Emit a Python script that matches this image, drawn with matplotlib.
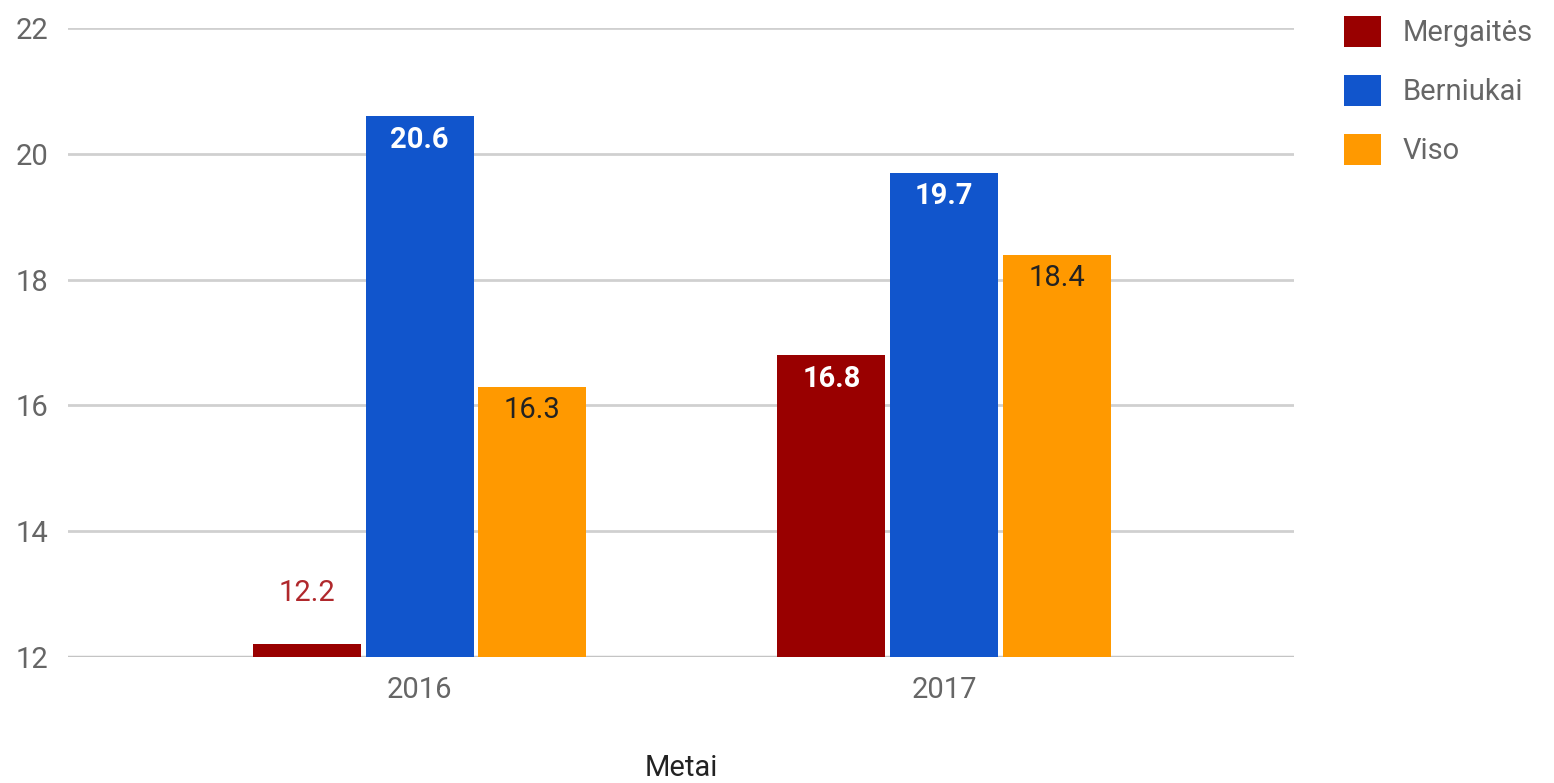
import numpy as np
import matplotlib.pyplot as plt
from matplotlib.patches import Patch

# duomenys
metai = ['2016', '2017']
serijos = ['Mergaitės', 'Berniukai', 'Viso']
mergaites = [12.2, 16.8]
berniukai = [20.6, 19.7]
viso = [16.3, 18.4]
spalvos = ['#990000', '#1155cc', '#ff9900']

plt.rcParams['font.family'] = ['Roboto', 'DejaVu Sans']

fig = plt.figure(figsize=(15.54, 7.83), dpi=100)
ax = fig.add_axes([0.0438, 0.161, 0.789, 0.803])

x = np.arange(len(metai))
plotis = 0.206
zingsnis = 0.215
reiksmes = [mergaites, berniukai, viso]

for i, (vals, sp) in enumerate(zip(reiksmes, spalvos)):
    pos = x + (i - 1) * zingsnis
    ax.bar(pos, np.array(vals) - 12, bottom=12, width=plotis, color=sp, zorder=3)
    for px, v in zip(pos, vals):
        if v - 12 < 1:
            # per mazas stulpelis - uzrasas virs jo
            ax.text(px, v + 0.6, f'{v:.1f}', ha='center', va='bottom',
                    color='#b0282c', fontsize=21, zorder=4)
        elif i == 2:
            ax.text(px, v - 0.15, f'{v:.1f}', ha='center', va='top',
                    color='#222222', fontsize=21, zorder=4)
        else:
            ax.text(px, v - 0.15, f'{v:.1f}', ha='center', va='top',
                    color='white', fontsize=21, fontweight='bold', zorder=4)

ax.set_xlim(-0.670, 1.667)
ax.set_ylim(12, 22)
ax.set_yticks([12, 14, 16, 18, 20, 22])
ax.set_xticks(x)
ax.set_xticklabels(metai)
ax.tick_params(axis='both', length=0, labelsize=21, labelcolor='#666666')
ax.tick_params(axis='x', pad=14)
ax.tick_params(axis='y', pad=14)
ax.grid(axis='y', color='#d0d0d0', linewidth=2, zorder=0)
ax.axhline(12, color='#c4c4c4', linewidth=2.5, zorder=2)
for s in ax.spines.values():
    s.set_visible(False)

ax.set_xlabel('Metai', fontsize=21, color='#222222', labelpad=36)

rankenos = [Patch(facecolor=c, edgecolor='none') for c in spalvos]
fig.legend(rankenos, serijos, loc='upper left', bbox_to_anchor=(0.848, 1.013),
           frameon=False, fontsize=21, labelcolor='#666666',
           handlelength=1.25, handleheight=1.25, handletextpad=0.75,
           labelspacing=0.95)

fig.savefig('out.png', dpi=100)
